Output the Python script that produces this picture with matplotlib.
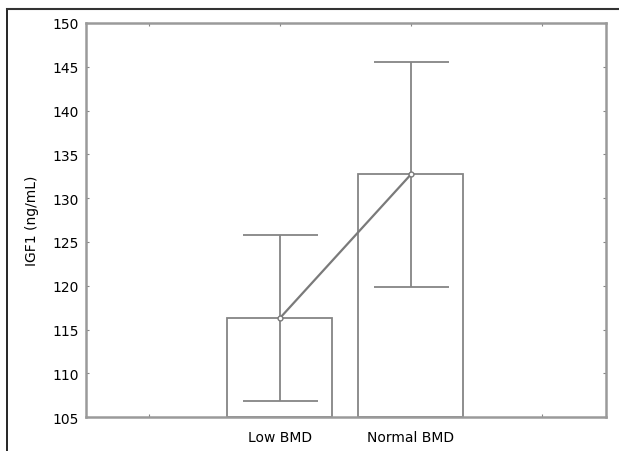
import matplotlib.pyplot as plt
from matplotlib.lines import Line2D

# IGF1 by bone mineral density group: mean +/- error
groups = ['Low BMD', 'Normal BMD']
means = [116.3, 132.7]
errors = [9.5, 12.8]
y_ticks = [105, 110, 115, 120, 125, 130, 135, 140, 145, 150]

line_col = '#858585'

fig = plt.figure(figsize=(6.19, 4.52), dpi=100)
ax = fig.add_axes([0.139, 0.075, 0.840, 0.872])

x = list(range(len(groups)))
ax.bar(x, [m - 105 for m in means], bottom=105, width=0.8,
       facecolor='white', edgecolor=line_col, linewidth=1.3, zorder=2)
ax.errorbar(x, means, yerr=errors, fmt='none', ecolor=line_col,
            elinewidth=1.3, capsize=27, capthick=1.3, zorder=3)
ax.plot(x, means, color='#7a7a7a', linewidth=1.6, marker='o', markersize=3.5,
        markerfacecolor='white', markeredgecolor='#7a7a7a', zorder=4)

ax.set_xlim(-1.48, 2.49)
ax.set_ylim(105, 150)
ax.set_xticks([-1, 0, 1, 2])
ax.set_xticklabels(['', groups[0], groups[1], ''])
ax.set_yticks(y_ticks)
ax.tick_params(direction='in', length=2, color=line_col, labelsize=10,
               top=True, right=True, pad=5)
ax.tick_params(axis='x', pad=9)
for s in ax.spines.values():
    s.set_color('#9a9a9a')
    s.set_linewidth(1.8)
ax.set_ylabel('IGF1 (ng/mL)', fontsize=10, labelpad=10)

# outer frame on left and top of figure
fig.add_artist(Line2D([7 / 619, 7 / 619], [0, 1 - 10 / 452], color='black',
                      linewidth=1.2, transform=fig.transFigure))
fig.add_artist(Line2D([7 / 619, 1], [1 - 10 / 452, 1 - 10 / 452], color='#333333',
                      linewidth=1.5, transform=fig.transFigure))

fig.savefig('out.png', dpi=100)
